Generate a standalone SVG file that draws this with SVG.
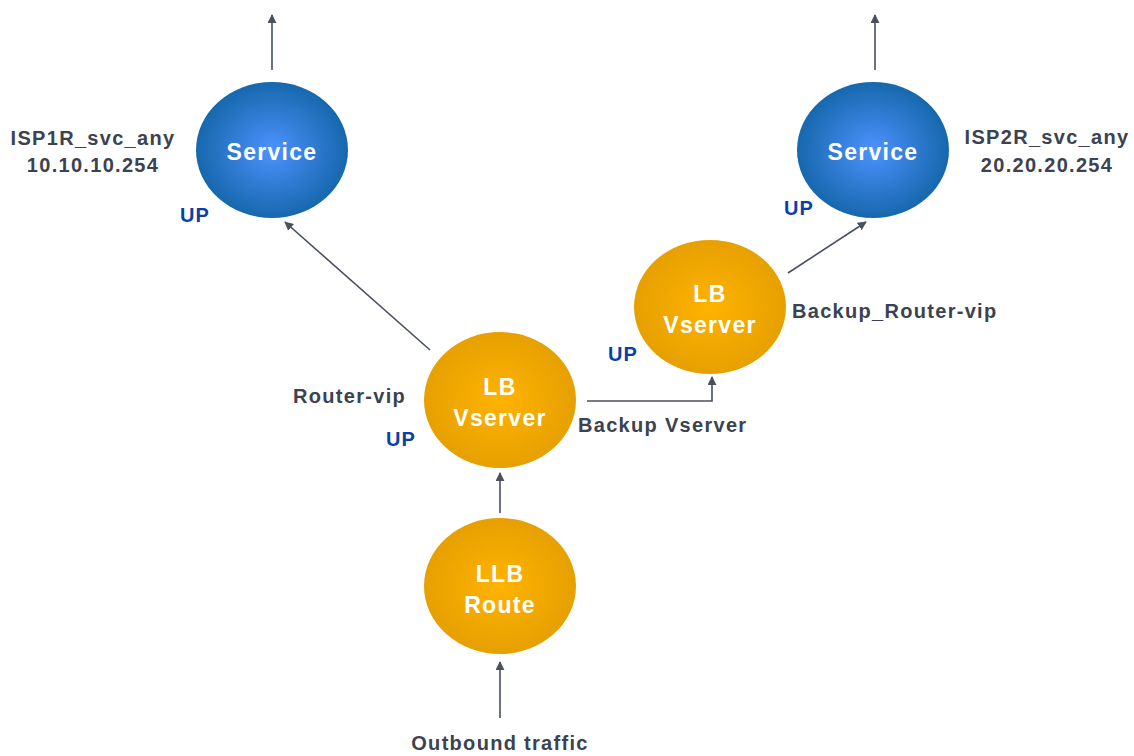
<svg xmlns="http://www.w3.org/2000/svg" width="1134" height="756" viewBox="0 0 1134 756">
<style>
.lbl{font-family:"Liberation Sans",Arial,sans-serif;font-weight:bold;font-size:20px;fill:#3b4252;letter-spacing:1.3px}
.up{font-family:"Liberation Sans",Arial,sans-serif;font-weight:bold;font-size:20px;fill:#0b3fa8;letter-spacing:1px}
.nt{font-family:"Liberation Sans",Arial,sans-serif;font-weight:bold;font-size:23px;fill:#ffffff;text-anchor:middle;letter-spacing:1.3px}
.c{fill:none;stroke:#4a5060;stroke-width:1.6}
</style>
<defs>
<radialGradient id="gb" cx="0.5" cy="0.5" r="0.5">
<stop offset="0" stop-color="#4d92ff"/>
<stop offset="1" stop-color="#1668ad"/>
</radialGradient>
<radialGradient id="go" cx="0.5" cy="0.5" r="0.5">
<stop offset="0" stop-color="#ffb300"/>
<stop offset="1" stop-color="#e6a000"/>
</radialGradient>
<marker id="ah" viewBox="0 0 10 10" refX="9" refY="5" markerWidth="9" markerHeight="9" markerUnits="userSpaceOnUse" orient="auto">
<path d="M0,0 L10,5 L0,10 z" fill="#4a5060"/>
</marker>
</defs>
<g id="connectors">
<line class="c" x1="272" y1="70" x2="272" y2="15" marker-end="url(#ah)"/>
<line class="c" x1="875" y1="70" x2="875" y2="15" marker-end="url(#ah)"/>
<line class="c" x1="430" y1="350" x2="285" y2="222" marker-end="url(#ah)"/>
<line class="c" x1="788" y1="273" x2="866" y2="222" marker-end="url(#ah)"/>
<polyline class="c" points="587,401 712,401 712,377" marker-end="url(#ah)"/>
<line class="c" x1="500" y1="513" x2="500" y2="473" marker-end="url(#ah)"/>
<line class="c" x1="500" y1="718" x2="500" y2="662" marker-end="url(#ah)"/>
</g>
<g id="service1">
<ellipse cx="272" cy="150" rx="76" ry="68" fill="url(#gb)"/>
<text class="nt" x="272" y="160">Service</text>
</g>
<g id="service2">
<ellipse cx="873" cy="150" rx="76" ry="68" fill="url(#gb)"/>
<text class="nt" x="873" y="160">Service</text>
</g>
<g id="lbvserver1">
<ellipse cx="500" cy="400" rx="76" ry="68" fill="url(#go)"/>
<text class="nt" x="500" y="395">LB</text>
<text class="nt" x="500" y="426">Vserver</text>
</g>
<g id="lbvserver2">
<ellipse cx="710" cy="307" rx="76" ry="67" fill="url(#go)"/>
<text class="nt" x="710" y="302">LB</text>
<text class="nt" x="710" y="333">Vserver</text>
</g>
<g id="llbroute">
<ellipse cx="500" cy="586" rx="76" ry="68" fill="url(#go)"/>
<text class="nt" x="500" y="582">LLB</text>
<text class="nt" x="500" y="613">Route</text>
</g>
<g id="labels">
<text class="lbl" x="93" y="145" text-anchor="middle">ISP1R_svc_any</text>
<text class="lbl" x="93" y="172" text-anchor="middle">10.10.10.254</text>
<text class="lbl" x="1047" y="144" text-anchor="middle">ISP2R_svc_any</text>
<text class="lbl" x="1047" y="172" text-anchor="middle">20.20.20.254</text>
<text class="up" x="180" y="222">UP</text>
<text class="up" x="784" y="215">UP</text>
<text class="up" x="608" y="361">UP</text>
<text class="up" x="386" y="446">UP</text>
<text class="lbl" x="293" y="403">Router-vip</text>
<text class="lbl" x="578" y="432">Backup Vserver</text>
<text class="lbl" x="792" y="318">Backup_Router-vip</text>
<text class="lbl" x="500" y="750" text-anchor="middle">Outbound traffic</text>
</g>
</svg>
